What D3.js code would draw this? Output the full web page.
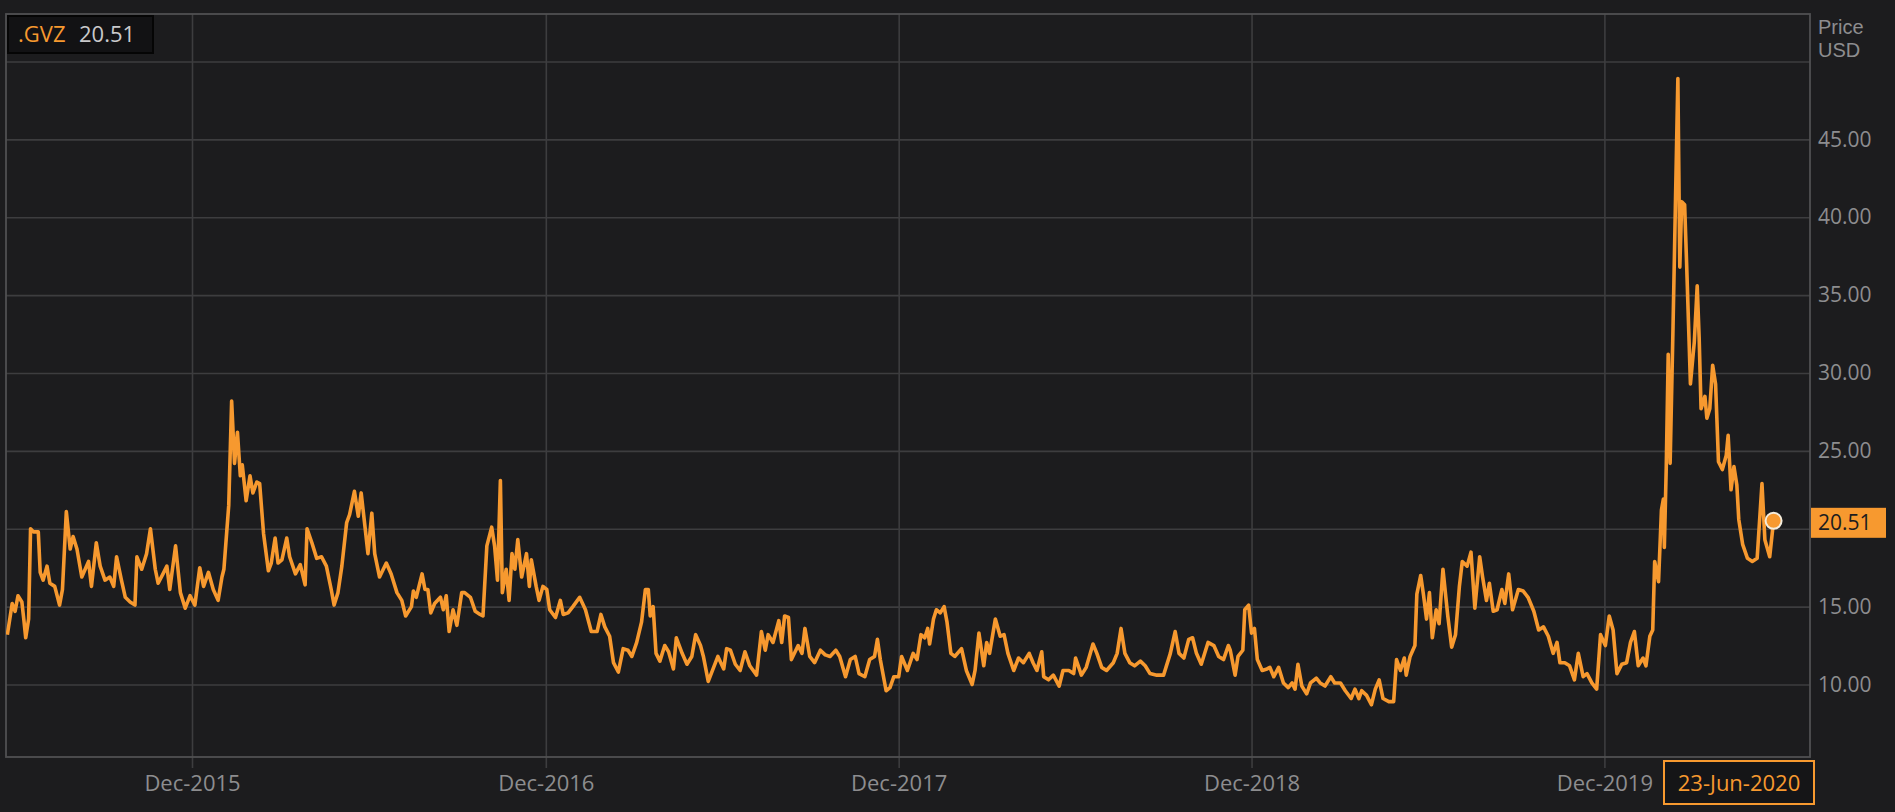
<!DOCTYPE html>
<html><head><meta charset="utf-8">
<script src="https://cdn.jsdelivr.net/npm/d3@7"></script>
<style>
html,body{margin:0;padding:0;background:#1c1c1e;}
svg{display:block;font-family:"Open Sans",sans-serif;}
</style></head><body>
<svg id="chart" width="1895" height="812"></svg>
<script>
const seriesName = ".GVZ";
const lastValue = 20.51;
const lastDateLabel = "23-Jun-2020";
const yAxisTitle = ["Price", "USD"];

// readings: day offset from seriesStart, and GVZ value
const seriesStart = "2015-06-23";
const dayOffsets = [
 0,5,8,11,15,17,19,22,24,27, 32,34,37,41,44,49,54,57,61,65,
 68,72,77,84,87,92,96,101,106,110, 113,118,122,127,132,134,139,144,148,153,
 156,161,165,168,174,179,184,189,194,199, 203,208,213,218,222,224,229,232,235,238,
 241,243,247,251,254,258,261,265,270,273, 277,280,284,289,292,298,303,308,310,315,
 320,325,330,335,338,342,346,351,354,359, 363,366,370,373,377,380,385,392,397,403,
 408,412,418,
 420,423,429,432,435,438,442,448,451,454, 457,461,465,470,473,479,484,489,492,496,
 501,504,507,510,512,516,519,522,525,528, 532,537,540,542,547,550,554,558,561,567,
 572,575,580,585,592,598,604,610,614,618, 623,627,632,637,642,646,651,656,660,663,
 665,668,671,675,680,684,689,692,698,703, 708,712,717,720,725,730,735,741,744,748,
 753,758,763,768,775,780,784,787,792,798, 801,804,808,811,818,822,825,830,835,841,
 846,851,857,861,867,872,877,881,887,892, 897,900,903,909,913,917,922,925,931,937,
 941,945,949,952,954,958,961,965,969,972, 976,980,987,992,998,1001,1005,1010,1013,1016,
 1022,1027,1031,1035,1041,1046,1051,1057,1061,1065, 1070,1072,1077,1082,1088,1092,1098,1103,1105,1111,
 1116,1123,1127,1132,1137,1144,1148,1152,1156,1161, 1166,1172,1177,1182,1189,1196,1203,1208,1212,1217,
 1222,1226,1230,1235,1242,1248,1253,1258,1263,
 1265,1270,1273,1278,1280,1284,1287,1290,1293,1298, 1303,1306,1310,1315,1320,1325,1329,1332,1335,1339,
 1344,1348,1354,1358,1363,1369,1373,1379,1384,1390, 1394,1398,1401,1406,1411,1415,1419,1423,1429,1434,
 1437,1441,1445,1447,1451,1456,1458,1462,1465,1468, 1471,1474,1478,1481,1485,1490,1494,1498,1502,1505,
 1510,1514,1518,1523,1526,1530,1533,1537,1541,1546, 1549,1553,1557,1563,1568,1573,1579,1584,1589,1594,
 1599,1603,1606,1611,1616,1621,1625,1630,1634,1639, 1644,1648,1653,1657,1661,1665,1670,1675,1679,1683,
 1687,1692,1695,1699,
 1702,1704,1708,1711,1713,1714,1716,1718,1720,1723, 1728,1730,1732,1735,1737,1741,1745,1748,1750,1752,
 1756,1758,1761,1764,1767,1770,1774,1778,1780,1783, 1786,1789,1791,1795,1800,1805,1810,1815,1818,1823,
 1827
];
const gvzValues = [
 13.2,15.2,14.7,15.7,15.3,14.2,13.0,14.2,20.0,19.8, 19.8,17.2,16.7,17.6,16.5,16.3,15.1,16.1,21.1,18.7,
 19.5,18.7,16.9,17.9,16.3,19.1,17.6,16.7,16.9,16.3, 18.2,16.7,15.6,15.3,15.1,18.2,17.4,18.4,20.0,17.4,
 16.5,17.1,17.6,16.1,18.9,15.9,14.9,15.7,15.1,17.5, 16.3,17.2,16.1,15.4,16.9,17.4,21.5,28.2,24.2,26.2,
 23.4,24.1,21.8,23.4,22.3,23.0,22.9,19.7,17.3,17.8, 19.4,17.8,18.0,19.4,18.2,17.1,17.7,16.4,20.0,19.1,
 18.1,18.2,17.6,16.1,15.1,15.9,17.6,20.4,20.9,22.4, 20.8,22.3,20.1,18.4,21.0,18.4,16.9,17.8,17.1,15.9,
 15.4,14.4,15.0,
 16.0,15.6,17.1,16.1,16.1,14.6,15.2,15.6,14.8,15.7, 13.4,14.8,13.8,15.9,15.9,15.6,14.7,14.5,14.4,18.9,
 20.1,18.9,16.7,23.1,15.9,17.4,15.4,18.4,17.4,19.3, 16.9,18.4,16.3,18.0,16.3,15.4,16.3,16.1,14.8,14.3,
 15.4,14.5,14.6,15.0,15.6,14.8,13.4,13.4,14.5,13.7, 13.1,11.4,10.8,12.3,12.2,11.8,12.7,14.0,16.1,16.1,
 14.4,15.0,12.0,11.5,12.5,12.1,11.0,13.0,12.0,11.3, 11.8,13.2,12.5,11.8,10.2,11.0,11.8,11.0,12.3,12.2,
 11.3,10.9,12.1,11.2,10.6,13.4,12.2,13.2,12.7,14.1, 12.7,14.4,14.3,11.6,12.5,12.0,13.6,11.8,11.4,12.2,
 11.9,11.8,12.2,11.8,10.5,11.6,11.8,10.7,10.5,11.6, 11.8,12.9,11.6,9.6,9.8,10.5,10.5,11.8,10.9,12.0,
 11.6,13.2,13.0,13.6,12.6,14.2,14.8,14.6,15.0,14.0, 12.0,11.8,12.3,10.9,10.0,10.9,13.3,11.2,12.7,12.0,
 14.2,13.1,13.2,12.0,10.9,11.7,11.4,12.0,11.4,10.9, 12.1,10.5,10.3,10.6,9.9,10.9,10.9,10.7,11.7,10.6,
 11.1,12.6,12.0,11.1,10.9,11.4,12.0,13.6,12.0,11.4, 11.2,11.5,11.2,10.7,10.6,10.6,12.0,13.4,12.0,11.7,
 12.9,13.0,12.0,11.3,12.7,12.5,11.8,11.6,12.5,
 12.2,10.6,11.8,12.2,14.8,15.1,13.3,13.6,11.6,10.9, 11.0,11.1,10.5,11.1,10.1,9.8,10.1,9.7,11.3,9.9,
 9.4,10.1,10.4,10.1,9.9,10.5,10.1,10.1,9.6,9.1, 9.7,9.1,9.6,9.3,8.7,9.7,10.3,9.1,8.9,8.9,
 11.6,10.9,11.7,10.6,11.8,12.5,15.8,17.0,15.7,14.2, 15.9,13.0,14.8,13.9,17.4,14.4,12.4,13.2,16.3,17.9,
 17.6,18.5,14.9,18.2,16.9,15.4,16.5,14.7,14.8,16.1, 15.2,17.1,14.8,16.1,16.0,15.6,14.7,13.5,13.7,13.1,
 12.0,12.7,11.4,11.4,11.2,10.3,12.0,10.5,10.7,10.1, 9.7,13.2,12.5,14.4,13.5,10.7,11.3,11.4,12.7,13.4,
 11.2,11.7,11.2,13.1,
 13.5,17.9,16.6,21.2,21.9,18.8,24.0,31.2,24.2,33.0, 48.9,36.8,41.0,40.8,37.1,29.3,32.0,35.6,32.3,27.7,
 28.5,27.1,27.7,30.5,29.3,24.3,23.8,24.7,26.0,22.5, 24.0,22.8,20.6,19.0,18.1,17.9,18.1,22.9,19.3,18.2,
 20.51
];

const yGridValues = [10,15,20,25,30,35,40,45,50];
const yTickValues = [10,15,20,25,30,35,40,45];
const xTickDates = ["2015-12-31","2016-12-31","2017-12-31","2018-12-31","2019-12-31"];

const ORANGE = "#f7992f";
const parse = d3.timeParse("%Y-%m-%d");
const start = parse(seriesStart);
const n = Math.min(dayOffsets.length, gvzValues.length);
const data = d3.range(n).map(i => ({date: d3.timeDay.offset(start, dayOffsets[i]), value: gvzValues[i]}));

const L=6, T=14, R=1810, B=757;
const svg = d3.select("#chart");
svg.append("rect").attr("width",1895).attr("height",812).attr("fill","#1c1c1e");
svg.append("rect").attr("x",L).attr("y",T).attr("width",R-L).attr("height",B-T).attr("fill","#1c1c1e");

const x = d3.scaleTime().domain([parse("2015-12-31"), parse("2019-12-31")]).range([192,1604.4]);
const y = d3.scaleLinear().domain([10,50]).range([684.5,61.5]);

// horizontal grid
const gy = svg.append("g").attr("transform",`translate(${L},0)`)
  .call(d3.axisRight(y).tickValues(yGridValues).tickSize(R-L).tickFormat(""));
gy.select(".domain").remove();
gy.selectAll("line").attr("stroke","#3d3d3f").attr("stroke-width",1.6);

// vertical grid + ticks + labels
const gx = svg.append("g").attr("transform",`translate(0,${T})`)
  .call(d3.axisBottom(x).tickValues(xTickDates.map(parse)).tickSize(B-T+11).tickPadding(7)
    .tickFormat(d3.timeFormat("Dec-%Y")));
gx.select(".domain").remove();
gx.selectAll("line").attr("stroke","#3d3d3f").attr("stroke-width",1.6);
gx.selectAll("text").attr("fill","#8d8d8f").attr("font-size",22).attr("font-family","Open Sans");

// plot border
svg.append("rect").attr("x",L).attr("y",T).attr("width",R-L).attr("height",B-T)
  .attr("fill","none").attr("stroke","#505052").attr("stroke-width",1.8);

// y labels (the one hidden behind the last-value tag is not drawn)
const tagY = y(lastValue);
const visibleYTicks = yTickValues.filter(v => Math.abs(y(v) - tagY) > 22);
const gyl = svg.append("g").attr("transform",`translate(${R},0)`)
  .call(d3.axisRight(y).tickValues(visibleYTicks).tickSize(0).tickPadding(8).tickFormat(d3.format(".2f")));
gyl.select(".domain").remove();
gyl.selectAll("text").attr("fill","#8d8d8f").attr("font-size",21).attr("font-family","Open Sans");

svg.append("text").attr("x",1818).attr("y",34).attr("fill","#8d8d8f").attr("font-size",20)
  .attr("font-family","Liberation Sans").text(yAxisTitle[0]);
svg.append("text").attr("x",1818).attr("y",57).attr("fill","#8d8d8f").attr("font-size",20)
  .attr("font-family","Liberation Sans").text(yAxisTitle[1]);

// line
svg.append("clipPath").attr("id","clip").append("rect").attr("x",L).attr("y",T).attr("width",R-L).attr("height",B-T);
svg.append("path").datum(data).attr("clip-path","url(#clip)")
  .attr("fill","none").attr("stroke",ORANGE).attr("stroke-width",3.6).attr("stroke-linejoin","round")
  .attr("d", d3.line().x(d=>x(d.date)).y(d=>y(d.value)));

// end dot
const last = data[data.length-1];
svg.append("circle").attr("cx",x(last.date)).attr("cy",y(last.value)).attr("r",8)
  .attr("fill",ORANGE).attr("stroke","#f4ecdc").attr("stroke-width",2);

// value tag
svg.append("rect").attr("x",1811).attr("y",tagY-13).attr("width",75).attr("height",30).attr("fill",ORANGE);
svg.append("text").attr("x",1818).attr("y",tagY+2).attr("dy","0.35em").attr("fill","#1c1c1e")
  .attr("font-size",21).text(d3.format(".2f")(lastValue));

// date box
svg.append("rect").attr("x",1664).attr("y",761).attr("width",150).attr("height",43)
  .attr("fill","#151517").attr("stroke",ORANGE).attr("stroke-width",2);
svg.append("text").attr("x",1739).attr("y",791).attr("text-anchor","middle").attr("fill",ORANGE)
  .attr("font-size",22).text(lastDateLabel);

// legend
svg.append("rect").attr("x",8).attr("y",16).attr("width",145).attr("height",37)
  .attr("fill","#121214").attr("stroke","#050505").attr("stroke-width",2);
svg.append("text").attr("x",18).attr("y",42).attr("fill",ORANGE).attr("font-size",22).text(seriesName);
svg.append("text").attr("x",79).attr("y",42).attr("fill","#c9c9cb").attr("font-size",22).text(d3.format(".2f")(lastValue));
</script>
</body></html>
